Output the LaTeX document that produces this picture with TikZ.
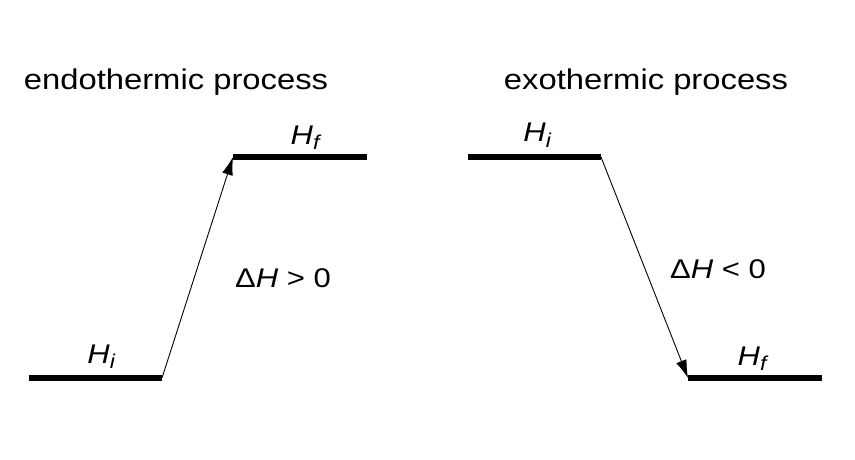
\documentclass[tikz,border=0pt]{standalone}
\usepackage{fontspec}
\setmainfont[FakeStretch=1.15]{Liberation Sans}
\usepackage{tikz}
\usetikzlibrary{calc,arrows.meta}

\newcommand{\Hsub}[1]{\textit{H}\raisebox{-0.2em}{\fontsize{20}{20}\selectfont\textit{#1}}}

\tikzset{
  level/.style={line width=6.7pt},
  change/.style={line width=0.9pt,-{Latex[length=18pt,width=11pt]}},
  title/.style={anchor=base,font=\fontsize{28.5}{34}\selectfont},
  enth/.style={anchor=base,font=\fontsize{27}{32}\selectfont},
  delta/.style={anchor=base,font=\fontsize{27}{32}\selectfont},
}

\begin{document}
\begin{tikzpicture}[x=1pt,y=-1pt]
              \useasboundingbox (0,0) rectangle (855,460);

              % energy levels
              \coordinate (endoIl) at (29,378);  \coordinate (endoIr) at (162,378);
              \coordinate (endoFl) at (233,157); \coordinate (endoFr) at (367,157);
              \coordinate (exoIl)  at (468,157); \coordinate (exoIr)  at (601,157);
              \coordinate (exoFl)  at (688,378); \coordinate (exoFr)  at (822,378);

              \draw[level] (endoIl) -- (endoIr) (endoFl) -- (endoFr)
                           (exoIl)  -- (exoIr)  (exoFl)  -- (exoFr);

              \path (endoIr) edge[change] (endoFl)
                    (exoIr)  edge[change] (exoFl);

              \node[title] (endotitle) at (176,89) {endothermic process};
              \node[title] (exotitle)  at (646,89) {exothermic process};

              \node[enth] (endoHi) at ($(endoIl)!0.5!(endoIr)+(6,-15)$) {\Hsub{i}};
              \node[enth] (endoHf) at ($(endoFl)!0.5!(endoFr)+(6,-13)$) {\Hsub{f}};
              \node[enth] (exoHi)  at ($(exoIl)!0.5!(exoIr)+(3,-15)$)   {\Hsub{i}};
              \node[enth] (exoHf)  at ($(exoFl)!0.5!(exoFr)+(-2,-13)$)  {\Hsub{f}};

              \node[delta] (endodH) at (283,287) {Δ\textit{H} > 0};
              \node[delta] (exodH)  at (718,278) {Δ\textit{H} < 0};
\end{tikzpicture}
\end{document}
